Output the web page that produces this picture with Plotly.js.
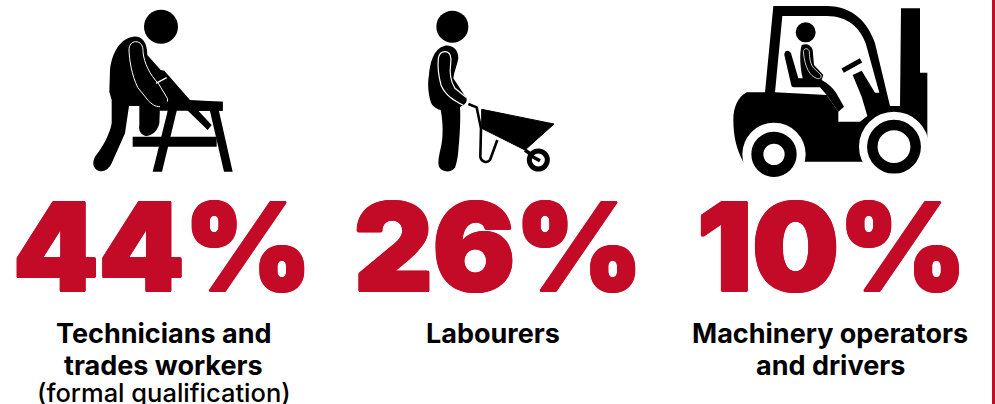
<!DOCTYPE html>
<html><head><meta charset="utf-8">
<script src="https://cdn.plot.ly/plotly-3.0.1.min.js"></script>
<style>html,body{margin:0;padding:0;background:#fff}</style></head>
<body><div id="c" style="width:995px;height:404px"></div>
<script>
const shares=[44,26,10];
const categories=[["Technicians and","trades workers"],["Labourers"],["Machinery operators","and drivers"]];
const notes=["(formal qualification)","",""];
const shareCentres=[162.5,498.5,831.5];
const labelCentres=[163.5,493,830];
const RED="#c30b28",INK="#000000";

// icon geometry is given in local units (3 = 1 px) from an origin
function T(ox,oy,d){let i=0;return d.replace(/-?\d+(\.\d+)?/g,n=>{const v=(i++%2==0)?ox+n/3:oy+n/3;return v.toFixed(2)});}
function path(ox,oy,d,fill,lc,lw){return{type:"path",path:T(ox,oy,d),fillcolor:fill||INK,line:{color:lc||fill||INK,width:lw===undefined?0:lw},layer:"above"};}
function circ(ox,oy,cx,cy,r,fill,lc,lw){return{type:"circle",x0:ox+(cx-r)/3,x1:ox+(cx+r)/3,y0:oy+(cy-r)/3,y1:oy+(cy+r)/3,fillcolor:fill,line:{color:lc||fill,width:lw||0},layer:"above"};}
const W="#ffffff",NONE="rgba(0,0,0,0)";
let shapes=[];
// sawyer
let o=[70,0];
shapes.push(circ(...o,273,80,51,INK));
shapes.push(path(...o,"M190,110 C215,108 232,125 232,165 L272,210 L283,212 L360,300 L458,305 L458,332 L385,332 L425,375 L413,390 L330,310 L270,322 L268,370 C262,395 245,408 228,408 C212,405 205,390 208,375 L208,318 L177,318 L165,400 L125,490 C115,510 100,518 85,512 C70,505 65,490 75,470 C100,440 120,400 125,370 L125,300 L118,275 L120,210 C125,160 150,115 190,110 Z"));
shapes.push(path(...o,"M197,125 C212,125 220,138 219,155 C222,190 240,225 265,250 L292,295 C296,308 285,320 270,320 C255,320 245,312 235,302 L203,262 C185,225 178,180 177,150 C177,135 185,125 197,125 Z",INK,W,1));
shapes.push(path(...o,"M258,250 L290,233",INK,W,1.4));
shapes.push(path(...o,"M270,305 L458,305 L458,332 L270,332 Z"));
shapes.push(path(...o,"M188,410 L440,410 L440,440 L188,440 Z"));
shapes.push(path(...o,"M295,325 L322,325 L276,515 L248,515 Z"));
shapes.push(path(...o,"M418,325 L445,325 L488,515 L462,515 Z"));
// wheelbarrow
o=[410,0];
shapes.push(circ(...o,127,80,48,INK));
shapes.push(path(...o,"M105,137 C130,135 145,150 145,175 C142,195 132,215 130,235 L165,288 C175,298 170,312 155,318 L150,322 C152,350 150,400 146,440 C144,470 140,490 135,503 C125,517 100,518 90,505 C82,495 85,475 92,445 C100,415 100,370 92,330 C75,325 65,315 62,305 C55,280 52,250 57,225 C60,190 70,145 105,137 Z"));
shapes.push(path(...o,"M105,155 C120,155 125,170 122,190 C118,220 122,245 135,265 L168,292 M160,316 C130,300 105,285 93,255 C85,225 83,195 85,175 C87,163 95,155 105,155",NONE,W,1.2));
shapes.push(path(...o,"M175,312 L200,322 L213,385 L211,470 C213,487 232,490 240,480 L262,420",NONE,INK,2.6));
shapes.push(path(...o,"M215,328 L432,372 L345,450 L215,385 Z",INK,INK,1));
shapes.push(path(...o,"M345,450 L385,480",NONE,INK,3.5));
shapes.push(circ(...o,385,480,27,W,INK,5));
shapes.push(path(...o,"M362,467 L390,482",NONE,INK,3.5));
// forklift
o=[720,0];
shapes.push(path(...o,"M80,277 L135,277 L160,18 L320,18 C400,18 445,70 465,130 L510,318 L540,318 L543,25 L600,25 L600,218 L622,218 L622,415 L610,445 L500,485 L70,485 C50,450 40,410 40,360 C40,320 55,290 80,277 Z"));
shapes.push(path(...o,"M187,48 L320,48 C385,48 420,85 437,130 L478,278 L465,278 L425,212 L398,225 L425,290 L442,348 L420,365 L355,365 L355,335 L320,285 L165,277 Z",W));
shapes.push(circ(...o,257,97,30,INK));
shapes.push(path(...o,"M245,135 C258,130 272,133 278,150 L282,195 L310,225 L305,240 C325,250 345,270 355,290 L372,320 L355,335 L320,285 L300,262 L222,262 C216,262 214,258 213,252 L193,165 C192,150 208,148 213,160 L235,235 L248,235 C240,200 238,160 245,135 Z"));
shapes.push(path(...o,"M250,155 C252,143 265,143 268,155 C268,175 272,195 282,205 L303,225 C305,235 298,238 290,235 C270,228 255,205 250,155 Z",NONE,W,0.8));
shapes.push(path(...o,"M368,212 L423,181",NONE,INK,5));
shapes.push(circ(...o,162,463,95,W));
shapes.push(circ(...o,522,440,105,W));
shapes.push(circ(...o,162,463,50,W,INK,12));
shapes.push(circ(...o,522,440,65,W,INK,10.5));
// page rule
shapes.push({type:"rect",x0:992,x1:995,y0:0,y1:404,fillcolor:RED,line:{width:0},layer:"above"});

const annotations=[];
function note(x,y,text,size,weight,color,shadow){annotations.push({x,y,text,xref:"x",yref:"y",xanchor:"center",yanchor:"middle",showarrow:false,font:{family:"Inter",size,weight,color,shadow:shadow||"none"}});}
const heavy=["1.5px 0 0 ","-1.5px 0 0 ","0 1.2px 0 ","0 -1.2px 0 ","1.1px 1px 0 ","-1.1px 1px 0 ","1.1px -1px 0 ","-1.1px -1px 0 "].map(s=>s+RED).join(",");
shares.forEach((v,i)=>{
  note(shareCentres[i],246,v+"%",122,900,RED,heavy);
  categories[i].forEach((t,j)=>note(labelCentres[i],333+j*32,t,27,700,INK));
  if(notes[i])note(labelCentres[i],392,notes[i],25.5,500,INK);
});
Plotly.newPlot("c",[{x:[0],y:[0],mode:"markers",marker:{opacity:0},hoverinfo:"skip",showlegend:false}],{
  width:995,height:404,margin:{l:0,r:0,t:0,b:0},paper_bgcolor:"#fff",plot_bgcolor:"#fff",showlegend:false,
  xaxis:{range:[0,995],visible:false,fixedrange:true},
  yaxis:{range:[404,0],visible:false,fixedrange:true},
  shapes,annotations
},{displayModeBar:false,staticPlot:true});
</script></body></html>
